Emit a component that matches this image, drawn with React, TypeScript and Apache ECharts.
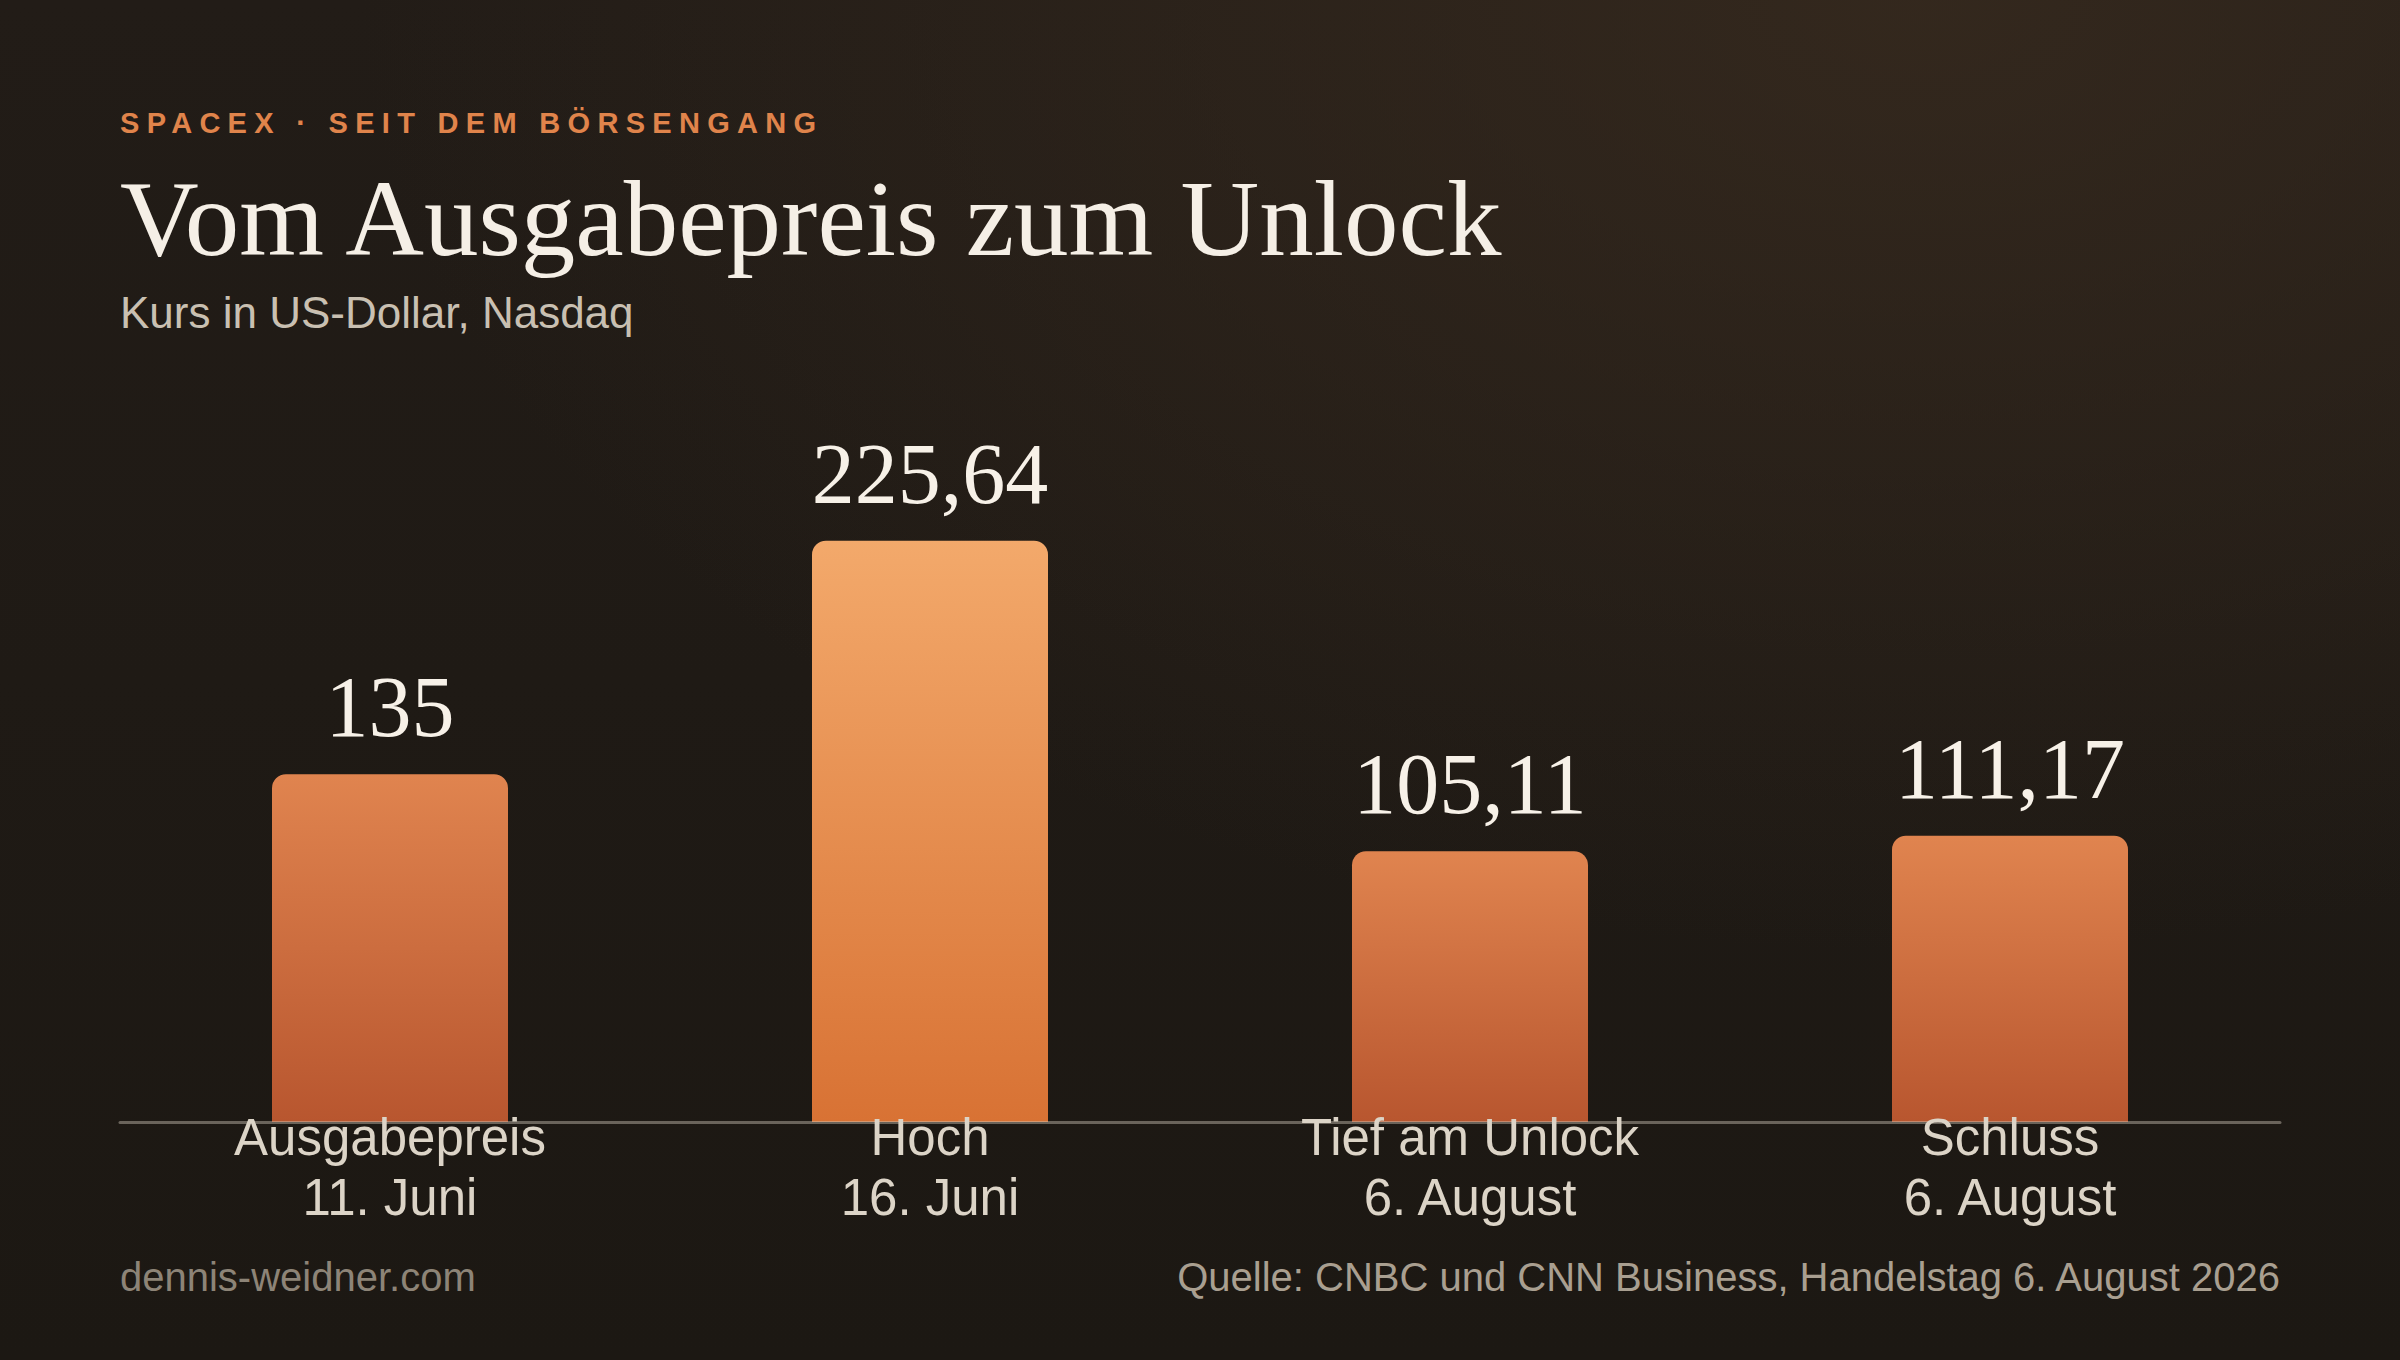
import { useRef, useEffect } from 'react'
import * as echarts from 'echarts'

// ── Daten ─────────────────────────────────────────────────────────
const categories = ['Ausgabepreis', 'Hoch', 'Tief am Unlock', 'Schluss']
const dates = ['11. Juni', '16. Juni', '6. August', '6. August']
const prices = [135, 225.64, 105.11, 111.17]

const eyebrow = 'SPACEX · SEIT DEM BÖRSENGANG'
const title = 'Vom Ausgabepreis zum Unlock'
const subtitle = 'Kurs in US-Dollar, Nasdaq'
const footerLeft = 'dennis-weidner.com'
const footerRight = 'Quelle: CNBC und CNN Business, Handelstag 6. August 2026'

const SANS = '"Liberation Sans", Arial, Helvetica, sans-serif'
const SERIF = '"Liberation Serif", "Times New Roman", serif'
const EYEBROW_COLOR = '#e0844b'

const grad = (top: string, bottom: string) =>
  new echarts.graphic.LinearGradient(0, 0, 0, 1, [
    { offset: 0, color: top },
    { offset: 1, color: bottom },
  ])

function buildOption(): echarts.EChartsOption {
  const maxIdx = prices.indexOf(Math.max(...prices))

  return {
    animation: false,
    backgroundColor: 'transparent',
    grid: { left: 120, right: 120, top: 478, bottom: 238, containLabel: false },
    xAxis: {
      type: 'category',
      data: categories,
      z: 10,
      axisLine: { show: true, lineStyle: { color: 'rgba(215,205,190,0.42)', width: 3 } },
      axisTick: { show: false },
      splitLine: { show: false },
      axisLabel: {
        margin: -15,
        color: '#dcd4c7',
        fontFamily: SANS,
        fontSize: 51,
        lineHeight: 60,
        interval: 0,
        formatter: (v: string, i: number) => `${v}\n${dates[i]}`,
      },
    },
    yAxis: { type: 'value', min: 0, max: 250, show: false },
    graphic: [
      {
        type: 'text', x: 120, y: 123,
        style: {
          text: eyebrow, fill: EYEBROW_COLOR, verticalAlign: 'middle',
          font: `bold 29px ${SANS}`,
        },
      },
      {
        type: 'text', x: 120, y: 218,
        style: { text: title, fill: '#f5efe6', verticalAlign: 'middle', font: `109px ${SERIF}` },
      },
      {
        type: 'text', x: 120, y: 312,
        style: { text: subtitle, fill: '#c9c0b2', verticalAlign: 'middle', font: `44px ${SANS}` },
      },
      {
        type: 'text', x: 120, y: 1277,
        style: { text: footerLeft, fill: '#8d8477', verticalAlign: 'middle', font: `40px ${SANS}` },
      },
      {
        type: 'text', x: 2280, y: 1277,
        style: {
          text: footerRight, fill: '#a99f90', align: 'right', verticalAlign: 'middle',
          font: `40px ${SANS}`,
        },
      },
    ] as any,
    series: [
      {
        type: 'bar',
        barWidth: 236,
        data: prices.map((v, i) => ({
          value: v,
          itemStyle: {
            color: i === maxIdx ? grad('#f3a96b', '#d87234') : grad('#e0844f', '#b8562f'),
            borderRadius: [14, 14, 0, 0],
          },
        })),
        label: {
          show: true,
          position: 'top',
          distance: 24,
          color: '#f7f1e8',
          fontFamily: SERIF,
          fontSize: 86,
          formatter: (p: any) => String(p.value).replace('.', ','),
        },
      },
    ],
  } as echarts.EChartsOption
}

export default function App() {
  const ref = useRef<HTMLDivElement>(null)

  useEffect(() => {
    if (!ref.current) return
    const chart = echarts.init(ref.current, undefined, { renderer: 'svg' })
    chart.setOption(buildOption())
    return () => chart.dispose()
  }, [])

  return (
    <>
      <style>{`text[fill="${EYEBROW_COLOR}"]{letter-spacing:7.3px}`}</style>
      <div
        ref={ref}
        style={{
          position: 'fixed',
          left: 0,
          top: 0,
          width: '100vw',
          height: '100vh',
          background:
            'radial-gradient(ellipse 65% 70% at 80% 0%, rgba(56,43,31,0.8) 0%, rgba(56,43,31,0) 100%), linear-gradient(180deg, #221c17 0%, #1c1813 100%)',
        }}
      />
    </>
  )
}
